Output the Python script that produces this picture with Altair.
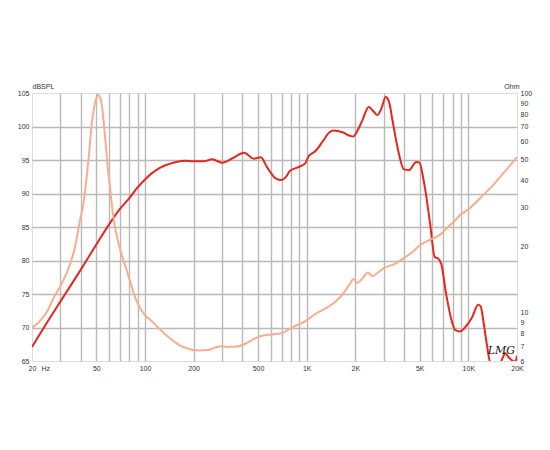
import altair as alt
import pandas as pd

# SPL curve (dB)
spl_freq = [20, 25, 30, 35, 40, 50, 60, 70, 80, 90, 100, 110, 125, 150, 175, 200, 230, 260, 300,
            350, 410, 470, 520, 570, 640, 700, 740, 790, 880, 980, 1030, 1100, 1160, 1250, 1380,
            1460, 1680, 1850, 1950, 2020, 2200, 2420, 2600, 2730, 2900, 3080, 3230, 3390, 3640,
            4000, 4300, 4760, 4990, 5240, 5420, 5800, 6200, 6500, 6800, 7300, 8000, 8300, 8900,
            9450, 10500, 11500, 11900, 12400, 12900, 13700, 14500, 15500, 16400, 16900, 17700,
            18600, 19500, 20000]
spl_db = [67.1, 70.9, 73.9, 76.4, 78.6, 82.4, 85.4, 87.7, 89.3, 90.9, 92.1, 93.0, 93.9, 94.6, 94.9,
          94.8, 94.8, 95.1, 94.6, 95.3, 96.1, 95.2, 95.4, 93.9, 92.3, 92.0, 92.4, 93.4, 93.9, 94.5,
          95.6, 96.1, 96.6, 97.7, 99.1, 99.4, 99.1, 98.6, 98.5, 99.0, 100.8, 102.9, 102.2, 101.7,
          102.7, 104.4, 103.7, 101.0, 97.0, 93.6, 93.5, 94.7, 94.6, 92.5, 90.5, 85.5, 80.5, 80.3,
          79.5, 74.9, 70.5, 69.6, 69.4, 69.9, 71.4, 73.4, 73.2, 70.9, 68.1, 64.7, 64.5, 64.5, 65.6,
          66.2, 65.6, 65.1, 64.9, 65.8]

# Impedance curve (Ohm)
imp_freq = [20, 22, 25, 27, 30, 34.5, 37, 39.6, 41.5, 43, 45, 46.9, 48.5, 50.4, 51.5, 52.5, 53.9,
            55.5, 56.6, 58.5, 60.7, 63, 65.2, 70, 77, 88.6, 100, 107, 123, 136, 172, 218, 246, 270,
            297, 320, 369, 424, 470, 512, 606, 696, 822, 1000, 1100, 1300, 1530, 1700, 1850, 1950,
            2050, 2200, 2400, 2550, 2700, 3000, 3500, 4000, 4500, 5000, 5600, 6300, 6700, 7500,
            8500, 9000, 9500, 10000, 12000, 14000, 16000, 18000, 20000]
imp_ohm = [8.5, 9.0, 10.2, 11.5, 13.2, 16.7, 20.0, 26.3, 30.8, 38, 52, 72.8, 86, 96.2, 97.9, 96,
           89.7, 74, 63.2, 48, 37.3, 29, 24.5, 19.5, 15.6, 11.3, 9.7, 9.3, 8.4, 7.85, 6.95, 6.7,
           6.73, 6.9, 7.01, 6.95, 6.98, 7.23, 7.55, 7.77, 7.93, 8.03, 8.57, 9.19, 9.7, 10.4, 11.3,
           12.3, 13.5, 14.2, 13.6, 14.2, 15.2, 14.6, 15.0, 15.9, 16.6, 17.7, 18.8, 20.2, 21.2,
           22.0, 22.6, 24.5, 26.8, 28.0, 28.7, 29.5, 33.5, 37.5, 42.0, 46.5, 51.0]

x_ticks = [20, 30, 40, 50, 60, 70, 80, 90, 100, 200, 300, 400, 500, 600, 700, 800, 900,
           1000, 2000, 3000, 4000, 5000, 6000, 7000, 8000, 9000, 10000, 20000]
x_label_vals = [20, 50, 100, 200, 500, 1000, 2000, 5000, 10000, 20000]
x_label_txt = ["20", "50", "100", "200", "500", "1K", "2K", "5K", "10K", "20K"]
db_ticks = [65, 70, 75, 80, 85, 90, 95, 100, 105]
ohm_ticks = [6, 7, 8, 9, 10, 20, 30, 40, 50, 60, 70, 80, 90, 100]

label_expr = " : ".join(
    f"datum.value == {v} ? '{t}'" for v, t in zip(x_label_vals, x_label_txt)
) + " : ''"

spl_df = pd.DataFrame({"f": spl_freq, "v": spl_db})
imp_df = pd.DataFrame({"f": imp_freq, "v": imp_ohm})

FONT = "Liberation Sans"
GRID = "#b9b9b9"
xscale = alt.Scale(type="log", domain=[20, 20000], nice=False)

x_grid_color = {"condition": {"test": "datum.value == 20 || datum.value == 20000",
                              "value": "transparent"}, "value": GRID}
y_grid_color = {"condition": {"test": "datum.value == 65 || datum.value == 105",
                              "value": "transparent"}, "value": GRID}

x_axis = alt.Axis(values=x_ticks, labelExpr=label_expr, grid=True, gridColor=x_grid_color,
                  gridWidth=1.4, ticks=False, domain=False, labelFontSize=7,
                  labelColor="#333", labelFont=FONT, labelPadding=3, title=None,
                  labelOverlap=False, labelFlush=False)

spl = alt.Chart(spl_df).mark_line(color="#e8261c", strokeWidth=2, clip=True,
                                  interpolate="monotone").encode(
    x=alt.X("f:Q", scale=xscale, axis=x_axis),
    y=alt.Y("v:Q", scale=alt.Scale(domain=[65, 105], nice=False),
            axis=alt.Axis(values=db_ticks, grid=True, gridColor=y_grid_color, gridWidth=1.4,
                          ticks=False, domain=False, labelFontSize=7, labelColor="#333",
                          labelFont=FONT, labelPadding=3, title="dBSPL", titleAngle=0,
                          titleX=0, titleY=-4, titleAlign="left", titleBaseline="bottom",
                          titleFontSize=7, titleFont=FONT, titleColor="#333",
                          titleFontWeight="normal")),
)

imp = alt.Chart(imp_df).mark_line(color="#f8ad90", strokeWidth=2, clip=True,
                                  interpolate="monotone").encode(
    x=alt.X("f:Q", scale=xscale, axis=x_axis),
    y=alt.Y("v:Q", scale=alt.Scale(type="log", domain=[6, 100], nice=False),
            axis=alt.Axis(orient="right", values=ohm_ticks, grid=False, ticks=False,
                          domain=False, labelFontSize=7, labelColor="#333", labelFont=FONT,
                          labelPadding=3, title="Ohm", titleAngle=0, titleX=2, titleY=-4,
                          titleAlign="right", titleBaseline="bottom", titleFontSize=7,
                          titleFont=FONT, titleColor="#333", titleFontWeight="normal")),
)

notes_df = pd.DataFrame({"f": [24.3, 16000], "t": ["Hz", "LMG"]})

hz = alt.Chart(notes_df).transform_filter(alt.datum.t == "Hz").mark_text(
    fontSize=7, font=FONT, color="#333", baseline="top").encode(
    x=alt.X("f:Q", scale=xscale, axis=x_axis), y=alt.value(272), text="t:N")

sig = alt.Chart(notes_df).transform_filter(alt.datum.t == "LMG").mark_text(
    fontSize=11, font="DejaVu Serif", fontStyle="italic", color="#111").encode(
    x=alt.X("f:Q", scale=xscale, axis=x_axis), y=alt.value(258), text="t:N")

chart = alt.layer(spl, imp, hz, sig).resolve_scale(y="independent").properties(
    width=485, height=268,
    autosize=alt.AutoSizeParams(type="none"),
    padding={"left": 24, "top": 85, "right": 25, "bottom": 81},
).configure_view(stroke="#4d4d4d", strokeWidth=2).configure(background="white")

chart.save("out.html", embed_options={"renderer": "svg", "actions": False})
